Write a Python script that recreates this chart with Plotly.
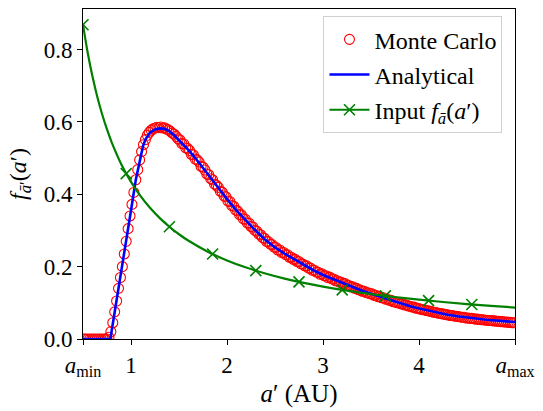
import numpy as np
import plotly.graph_objects as go

# ---------------- data ----------------
# Monte Carlo histogram (bin centres 0.51 ... 4.99, width 0.02)
mc_start = 0.51
mc_width = 0.02
mc_f = [
    0.000, 0.000, 0.000, 0.000, 0.000,   # 0.5x
    0.000, 0.000, 0.000, 0.000, 0.000,   # 0.6x
    0.000, 0.000, 0.000, 0.005, 0.020,   # 0.7x
    0.045, 0.075, 0.105, 0.140, 0.170,   # 0.8x
    0.200, 0.235, 0.270, 0.305, 0.340,   # 0.9x
    0.372, 0.405, 0.440, 0.468, 0.495,   # 1.0x
    0.518, 0.537, 0.551, 0.563, 0.571,   # 1.1x
    0.577, 0.581, 0.583, 0.585, 0.584,   # 1.2x
    0.586, 0.583, 0.584, 0.580, 0.578,   # 1.3x
    0.574, 0.569, 0.566, 0.560, 0.553,   # 1.4x
    0.550, 0.540, 0.539, 0.528, 0.527,   # 1.5x
    0.521, 0.510, 0.509, 0.497, 0.495,   # 1.6x
    0.489, 0.477, 0.475, 0.467, 0.456,   # 1.7x
    0.454, 0.443, 0.440, 0.428, 0.425,   # 1.8x
    0.419, 0.408, 0.406, 0.395, 0.393,   # 1.9x
    0.381, 0.380, 0.369, 0.367, 0.356,   # 2.0x
    0.354, 0.344, 0.343, 0.332, 0.331,   # 2.1x
    0.321, 0.320, 0.311, 0.309, 0.300,   # 2.2x
    0.298, 0.290, 0.288, 0.280, 0.278,   # 2.3x
    0.270, 0.269, 0.262, 0.261, 0.254,   # 2.4x
    0.253, 0.246, 0.246, 0.239, 0.239,   # 2.5x
    0.233, 0.233, 0.226, 0.226, 0.220,   # 2.6x
    0.220, 0.214, 0.214, 0.208, 0.207,   # 2.7x
    0.202, 0.202, 0.196, 0.196, 0.190,   # 2.8x
    0.190, 0.185, 0.184, 0.179, 0.180,   # 2.9x
    0.175, 0.175, 0.170, 0.171, 0.166,   # 3.0x
    0.166, 0.161, 0.161, 0.157, 0.157,   # 3.1x
    0.153, 0.153, 0.148, 0.148, 0.144,   # 3.2x
    0.144, 0.140, 0.140, 0.136, 0.135,   # 3.3x
    0.132, 0.132, 0.128, 0.128, 0.125,   # 3.4x
    0.125, 0.121, 0.121, 0.117, 0.117,   # 3.5x
    0.114, 0.114, 0.110, 0.110, 0.107,   # 3.6x
    0.107, 0.103, 0.103, 0.100, 0.100,   # 3.7x
    0.097, 0.097, 0.094, 0.094, 0.091,   # 3.8x
    0.090, 0.088, 0.088, 0.085, 0.085,   # 3.9x
    0.083, 0.081, 0.081, 0.079, 0.078,   # 4.0x
    0.077, 0.076, 0.074, 0.074, 0.072,   # 4.1x
    0.071, 0.070, 0.069, 0.068, 0.067,   # 4.2x
    0.066, 0.065, 0.065, 0.063, 0.063,   # 4.3x
    0.062, 0.061, 0.060, 0.060, 0.058,   # 4.4x
    0.058, 0.057, 0.057, 0.056, 0.055,   # 4.5x
    0.055, 0.054, 0.053, 0.053, 0.052,   # 4.6x
    0.052, 0.051, 0.051, 0.050, 0.050,   # 4.7x
    0.049, 0.049, 0.048, 0.048, 0.047,   # 4.8x
    0.047, 0.046, 0.046, 0.045, 0.045,   # 4.9x
]
mc_a = np.round(mc_start + mc_width * np.arange(len(mc_f)), 3)

# Analytical curve
an_a = [0.50, 0.785, 0.80, 0.85, 0.90, 0.95, 1.00, 1.05, 1.10, 1.125, 1.15,
        1.175, 1.20, 1.25, 1.30, 1.35, 1.40, 1.45, 1.50, 1.60, 1.70, 1.80,
        1.90, 2.00, 2.10, 2.20, 2.30, 2.40, 2.50, 2.60, 2.70, 2.80, 2.90,
        3.00, 3.10, 3.20, 3.30, 3.40, 3.50, 3.60, 3.70, 3.80, 3.90, 4.00,
        4.10, 4.20, 4.30, 4.40, 4.50, 4.60, 4.70, 4.80, 4.90, 5.00]
an_f = [0.000, 0.000, 0.025, 0.105, 0.185, 0.270, 0.355, 0.440, 0.508, 0.533, 0.551,
        0.562, 0.571, 0.579, 0.582, 0.581, 0.574, 0.563, 0.550, 0.522, 0.490, 0.455,
        0.420, 0.387, 0.355, 0.326, 0.299, 0.274, 0.253, 0.236, 0.220, 0.205, 0.190,
        0.177, 0.166, 0.155, 0.144, 0.134, 0.125, 0.116, 0.107, 0.099, 0.091, 0.084,
        0.078, 0.072, 0.067, 0.063, 0.059, 0.056, 0.053, 0.051, 0.049, 0.047]

# Input distribution f_abar(a')
in_a = [0.50, 0.55, 0.60, 0.65, 0.70, 0.75, 0.80, 0.90, 1.00, 1.10, 1.20, 1.30,
        1.40, 1.50, 1.60, 1.80, 2.00, 2.20, 2.40, 2.60, 2.80, 3.00, 3.25, 3.50,
        3.75, 4.00, 4.25, 4.50, 4.75, 5.00]
in_f = [0.8686, 0.7896, 0.7238, 0.6681, 0.6204, 0.5791, 0.5429, 0.4825, 0.4343,
        0.3948, 0.3619, 0.3341, 0.3102, 0.2895, 0.2714, 0.2413, 0.2171, 0.1974,
        0.1810, 0.1670, 0.1551, 0.1448, 0.1336, 0.1241, 0.1158, 0.1086, 0.1022,
        0.0965, 0.0914, 0.0869]
in_mark_a = [0.50, 0.95, 1.40, 1.85, 2.30, 2.75, 3.20, 3.65, 4.10, 4.55]
in_mark_f = [0.8686, 0.4571, 0.3102, 0.2348, 0.1888, 0.1579, 0.1357, 0.1190, 0.1059, 0.0954]

x_tickvals = [0.5, 1, 2, 3, 4, 5]
x_ticktext = ["<i>a</i><sub>min</sub>", "1", "2", "3", "4", "<i>a</i><sub>max</sub>"]
y_tickvals = [0.0, 0.2, 0.4, 0.6, 0.8]
y_ticktext = ["0.0", "0.2", "0.4", "0.6", "0.8"]

FONT = "'Liberation Serif', 'DejaVu Serif', serif"

fig = go.Figure()
fig.add_trace(go.Scatter(
    x=mc_a, y=mc_f, mode="markers", name="Monte Carlo",
    marker=dict(symbol="circle-open", size=10, color="red", line=dict(width=1.1, color="red")),
    legendgroup="mc"))
fig.add_trace(go.Scatter(
    x=an_a, y=an_f, mode="lines", name="Analytical",
    line=dict(color="blue", width=2.6), legendgroup="an"))
fig.add_trace(go.Scatter(
    x=in_a, y=in_f, mode="lines", line=dict(color="green", width=2.2, shape="spline"),
    showlegend=False, hoverinfo="skip"))
fig.add_trace(go.Scatter(
    x=in_mark_a, y=in_mark_f, mode="markers", showlegend=False,
    marker=dict(symbol="x-thin", size=11, color="green", line=dict(width=1.6, color="green"))))
fig.add_trace(go.Scatter(
    x=[None], y=[None], mode="lines+markers",
    name="Input <i>f</i><sub><i>ā</i></sub>(<i>a</i>′)",
    line=dict(color="green", width=2.2),
    marker=dict(symbol="x-thin", size=11, color="green", line=dict(width=1.6, color="green")),
    legendgroup="in"))

axis_common = dict(
    showgrid=False, zeroline=False, showline=True, linecolor="black", linewidth=1,
    mirror=True, ticks="outside", ticklen=5, tickwidth=1, tickcolor="black",
    tickfont=dict(family=FONT, size=23, color="black"),
)

fig.update_layout(
    width=543, height=411,
    margin=dict(l=83, r=21, t=8, b=63),
    paper_bgcolor="white", plot_bgcolor="white",
    font=dict(family=FONT, size=22, color="black"),
    xaxis=dict(range=[0.5, 5.0], tickmode="array", tickvals=x_tickvals, ticktext=x_ticktext,
               title=dict(text="<i>a</i>′ (AU)", font=dict(family=FONT, size=25), standoff=5),
               **axis_common),
    yaxis=dict(range=[0, 0.912], tickmode="array", tickvals=y_tickvals, ticktext=y_ticktext,
               title=dict(text="<i>f</i><sub><i>ā</i>′</sub>(<i>a</i>′)", font=dict(family=FONT, size=24),
                          standoff=10),
               **axis_common),
    legend=dict(x=0.971, y=0.978, xanchor="right", yanchor="top",
                bgcolor="rgba(255,255,255,0.85)", bordercolor="#d0d0d0", borderwidth=1,
                font=dict(family=FONT, size=24, color="black"), tracegroupgap=1,
                itemwidth=40),
    showlegend=True,
)

fig.write_html("out.html")
